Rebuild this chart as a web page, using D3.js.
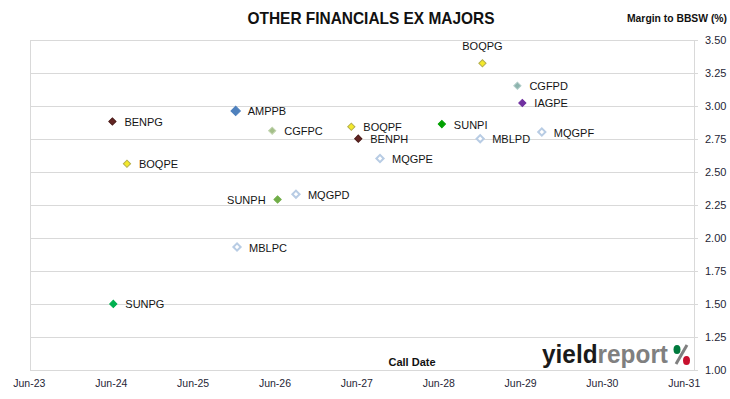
<!DOCTYPE html>
<html>
<head>
<meta charset="utf-8">
<script src="https://cdn.jsdelivr.net/npm/d3@7"></script>
<style>
  html, body { margin: 0; padding: 0; background: #fff; }
  svg { display: block; font-family: "Liberation Sans", Arial, sans-serif; }
</style>
</head>
<body>
<svg id="chart" width="730" height="399"></svg>
<script>
// ---- DATA ----
const codes = ["BOQPG","CGFPD","IAGPE","SUNPI","MBLPD","MQGPF","BOQPF","BENPH","MQGPE",
               "BENPG","AMPPB","CGFPC","BOQPE","SUNPH","MQGPD","MBLPC","SUNPG"];
const callDates = ["2028-12-15","2029-05-20","2029-06-11","2028-06-17","2028-12-05","2029-09-06",
                   "2027-05-10","2027-06-10","2027-09-15","2024-06-08","2025-12-10","2026-05-22",
                   "2024-08-12","2026-06-15","2026-09-05","2025-12-16","2024-06-12"];
const margins = [3.32, 3.15, 3.02, 2.86, 2.75, 2.80, 2.84, 2.75, 2.60,
                 2.88, 2.96, 2.81, 2.56, 2.29, 2.33, 1.93, 1.50];
const labelSide = ["top","right","right","right","right","right","right","right","right",
                   "right","right","right","right","left","right","right","right"];
const yTicks = [1.00, 1.25, 1.50, 1.75, 2.00, 2.25, 2.50, 2.75, 3.00, 3.25, 3.50];
const xTickLabels = ["Jun-23","Jun-24","Jun-25","Jun-26","Jun-27","Jun-28","Jun-29","Jun-30","Jun-31"];
const titleText = "OTHER FINANCIALS EX MAJORS";
const yAxisTitle = "Margin to BBSW (%)";
const xAxisTitle = "Call Date";

// ---- STYLES ----
const markerStyle = {
  AMPPB: {fill:"#4f81bd", stroke:"#4f81bd", size:44},
  BENPG: {fill:"#632523", stroke:"#4a1a18", size:26},
  BENPH: {fill:"#632523", stroke:"#4a1a18", size:26},
  BOQPE: {fill:"#f4e92a", stroke:"#b3ad4a", size:26},
  BOQPF: {fill:"#f4e92a", stroke:"#b3ad4a", size:26},
  BOQPG: {fill:"#f4e92a", stroke:"#b3ad4a", size:26},
  CGFPC: {fill:"#a3bf88", stroke:"#c2d4b0", size:26},
  CGFPD: {fill:"#8db4ae", stroke:"#b0ccc8", size:26},
  IAGPE: {fill:"#7030a0", stroke:"#7030a0", size:26},
  SUNPG: {fill:"#00b050", stroke:"#00b050", size:26},
  SUNPH: {fill:"#70ad47", stroke:"#70ad47", size:26},
  SUNPI: {fill:"#00a000", stroke:"#00a000", size:26},
  hollow: {fill:"#ffffff", stroke:"#b8cce4", size:26, sw:2}
};

const parse = d3.timeParse("%Y-%m-%d");
const data = codes.map((c, i) => ({code:c, date:parse(callDates[i]), v:margins[i], side:labelSide[i]}));

const svg = d3.select("#chart");
const plotL = 30, plotR = 694, plotT = 39.5, plotB = 370;

const x = d3.scaleTime()
  .domain([new Date(2023,5,1), new Date(2031,5,1)])
  .range([28.8, 683.7]);
const y = d3.scaleLinear().domain([1, 3.5]).range([plotB, plotT]);

// gridlines + right axis
const yAxis = d3.axisRight(y).tickValues(yTicks).tickFormat(d3.format(".2f")).tickSize(0).tickPadding(11);
const gy = svg.append("g").attr("transform", `translate(${plotR},0)`).call(yAxis);
gy.select(".domain").remove();
gy.selectAll("text").attr("fill", "#262636").attr("font-size", 11);

svg.append("g").selectAll("line").data(yTicks).join("line")
  .attr("x1", plotL).attr("x2", plotR + 4)
  .attr("y1", d => Math.round(y(d)) + 0.5).attr("y2", d => Math.round(y(d)) + 0.5)
  .attr("stroke", "#d9d9d9").attr("stroke-width", 1);

svg.append("line").attr("x1", plotL + 0.5).attr("x2", plotL + 0.5)
  .attr("y1", Math.round(plotT) + 0.5).attr("y2", plotB + 0.5)
  .attr("stroke", "#d9d9d9");
svg.append("line").attr("x1", plotR + 0.5).attr("x2", plotR + 0.5)
  .attr("y1", Math.round(plotT) + 0.5).attr("y2", plotB + 0.5)
  .attr("stroke", "#d9d9d9");

// x axis labels
const xTicks = xTickLabels.map((_, i) => new Date(2023 + i, 5, 1));
const xAxis = d3.axisBottom(x).tickValues(xTicks).tickFormat((d, i) => xTickLabels[i]).tickSize(0).tickPadding(10);
const gx = svg.append("g").attr("transform", `translate(0,${plotB})`).call(xAxis);
gx.select(".domain").remove();
gx.selectAll("text").attr("fill", "#262636").attr("font-size", 10.5);

// titles
svg.append("text").attr("x", 371).attr("y", 24).attr("text-anchor", "middle")
  .attr("font-weight", "bold").attr("font-size", 17).attr("fill", "#111")
  .attr("textLength", 247).attr("lengthAdjust", "spacingAndGlyphs").text(titleText);
svg.append("text").attr("x", 627).attr("y", 22)
  .attr("font-weight", "bold").attr("font-size", 10.5).attr("fill", "#111")
  .attr("textLength", 100).attr("lengthAdjust", "spacingAndGlyphs").text(yAxisTitle);
svg.append("text").attr("x", 412).attr("y", 366).attr("text-anchor", "middle")
  .attr("font-weight", "bold").attr("font-size", 11).attr("fill", "#111")
  .text(xAxisTitle);

// logo
const logo = svg.append("text").attr("x", 542).attr("y", 363)
  .attr("font-weight", "bold").attr("font-size", 25)
  .attr("textLength", 126).attr("lengthAdjust", "spacingAndGlyphs");
logo.append("tspan").attr("fill", "#1a1a1a").text("yield");
logo.append("tspan").attr("fill", "#808080").text("report");
svg.append("line").attr("x1", 687).attr("y1", 345).attr("x2", 676).attr("y2", 364)
  .attr("stroke", "#808080").attr("stroke-width", 3);
svg.append("ellipse").attr("cx", 677).attr("cy", 349.5).attr("rx", 3.5).attr("ry", 4.5).attr("fill", "#007a3d");
svg.append("ellipse").attr("cx", 686.5).attr("cy", 360.5).attr("rx", 3.5).attr("ry", 4.5).attr("fill", "#c8102e");

// markers
const sym = d3.symbol().type(d3.symbolSquare);
const pts = svg.append("g").selectAll("g").data(data).join("g")
  .attr("transform", d => `translate(${x(d.date)},${y(d.v)})`);
pts.append("path")
  .attr("d", d => sym.size((markerStyle[d.code] || markerStyle.hollow).size)())
  .attr("transform", "rotate(45)")
  .attr("fill", d => (markerStyle[d.code] || markerStyle.hollow).fill)
  .attr("stroke", d => (markerStyle[d.code] || markerStyle.hollow).stroke)
  .attr("stroke-width", d => (markerStyle[d.code] || markerStyle.hollow).sw || 1);

// labels
pts.append("text")
  .attr("font-size", 11).attr("fill", "#141414")
  .attr("x", d => d.side === "right" ? 12 : d.side === "left" ? -12 : 0)
  .attr("y", d => d.side === "top" ? -13 : 4.5)
  .attr("text-anchor", d => d.side === "right" ? "start" : d.side === "left" ? "end" : "middle")
  .text(d => d.code);
</script>
</body>
</html>
